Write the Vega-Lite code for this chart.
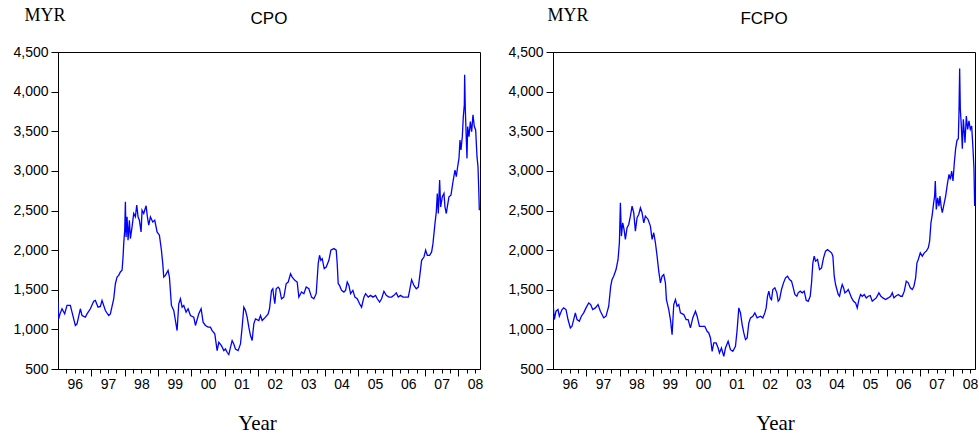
{
  "$schema": "https://vega.github.io/schema/vega-lite/v6.json",
  "padding": {"left": 12, "top": 5, "right": 0, "bottom": 2},
  "background": "white",
  "config": {
    "view": {"stroke": "black", "strokeWidth": 1},
    "axis": {"domainColor": "black", "tickColor": "black", "labelColor": "black", "labelFont": "Liberation Sans", "labelFontSize": 14, "grid": false, "titleColor": "black", "titleFontWeight": "normal"},
    "title": {"font": "Liberation Sans", "fontSize": 17, "fontWeight": "normal", "color": "black", "anchor": "middle", "baseline": "alphabetic"}
  },
  "datasets": {
    "cpo": [
      {"t": 1996.00, "v": 1344}, {"t": 1996.02, "v": 1133}, {"t": 1996.06, "v": 1196}, {"t": 1996.12, "v": 1260}, {"t": 1996.20, "v": 1196}, {"t": 1996.27, "v": 1302}, {"t": 1996.37, "v": 1302}, {"t": 1996.42, "v": 1217}, {"t": 1996.52, "v": 1049}, {"t": 1996.57, "v": 1070}, {"t": 1996.67, "v": 1260}, {"t": 1996.72, "v": 1175}, {"t": 1996.82, "v": 1154}, {"t": 1996.87, "v": 1196}, {"t": 1996.97, "v": 1260}, {"t": 1997.07, "v": 1356}, {"t": 1997.12, "v": 1365}, {"t": 1997.20, "v": 1280}, {"t": 1997.27, "v": 1289}, {"t": 1997.32, "v": 1365}, {"t": 1997.42, "v": 1238}, {"t": 1997.52, "v": 1175}, {"t": 1997.57, "v": 1196}, {"t": 1997.67, "v": 1386}, {"t": 1997.72, "v": 1576}, {"t": 1997.77, "v": 1660}, {"t": 1997.82, "v": 1681}, {"t": 1997.87, "v": 1724}, {"t": 1997.92, "v": 1745}, {"t": 1997.95, "v": 1913}, {"t": 1997.97, "v": 2082}, {"t": 1998.00, "v": 2250}, {"t": 1998.02, "v": 2610}, {"t": 1998.04, "v": 2167}, {"t": 1998.07, "v": 2420}, {"t": 1998.10, "v": 2124}, {"t": 1998.14, "v": 2377}, {"t": 1998.17, "v": 2146}, {"t": 1998.22, "v": 2293}, {"t": 1998.27, "v": 2462}, {"t": 1998.32, "v": 2420}, {"t": 1998.36, "v": 2568}, {"t": 1998.40, "v": 2420}, {"t": 1998.44, "v": 2377}, {"t": 1998.49, "v": 2230}, {"t": 1998.52, "v": 2504}, {"t": 1998.57, "v": 2462}, {"t": 1998.64, "v": 2560}, {"t": 1998.68, "v": 2420}, {"t": 1998.72, "v": 2314}, {"t": 1998.77, "v": 2420}, {"t": 1998.84, "v": 2356}, {"t": 1998.90, "v": 2377}, {"t": 1998.97, "v": 2230}, {"t": 1999.04, "v": 2188}, {"t": 1999.10, "v": 2000}, {"t": 1999.14, "v": 1829}, {"t": 1999.17, "v": 1660}, {"t": 1999.22, "v": 1681}, {"t": 1999.30, "v": 1745}, {"t": 1999.34, "v": 1660}, {"t": 1999.40, "v": 1302}, {"t": 1999.47, "v": 1238}, {"t": 1999.52, "v": 1112}, {"t": 1999.57, "v": 985}, {"t": 1999.62, "v": 1323}, {"t": 1999.67, "v": 1386}, {"t": 1999.72, "v": 1280}, {"t": 1999.77, "v": 1302}, {"t": 1999.84, "v": 1217}, {"t": 1999.90, "v": 1260}, {"t": 1999.97, "v": 1175}, {"t": 2000.07, "v": 1154}, {"t": 2000.12, "v": 1049}, {"t": 2000.22, "v": 1196}, {"t": 2000.29, "v": 1260}, {"t": 2000.35, "v": 1091}, {"t": 2000.42, "v": 1049}, {"t": 2000.50, "v": 1028}, {"t": 2000.57, "v": 1028}, {"t": 2000.62, "v": 985}, {"t": 2000.70, "v": 943}, {"t": 2000.77, "v": 732}, {"t": 2000.82, "v": 837}, {"t": 2000.90, "v": 795}, {"t": 2000.97, "v": 732}, {"t": 2001.02, "v": 753}, {"t": 2001.07, "v": 711}, {"t": 2001.12, "v": 682}, {"t": 2001.17, "v": 774}, {"t": 2001.22, "v": 859}, {"t": 2001.27, "v": 816}, {"t": 2001.32, "v": 753}, {"t": 2001.40, "v": 732}, {"t": 2001.47, "v": 816}, {"t": 2001.52, "v": 1028}, {"t": 2001.57, "v": 1280}, {"t": 2001.62, "v": 1238}, {"t": 2001.67, "v": 1154}, {"t": 2001.72, "v": 1028}, {"t": 2001.77, "v": 922}, {"t": 2001.82, "v": 859}, {"t": 2001.87, "v": 1070}, {"t": 2001.92, "v": 1133}, {"t": 2002.02, "v": 1112}, {"t": 2002.07, "v": 1175}, {"t": 2002.12, "v": 1112}, {"t": 2002.22, "v": 1154}, {"t": 2002.30, "v": 1196}, {"t": 2002.34, "v": 1260}, {"t": 2002.40, "v": 1492}, {"t": 2002.44, "v": 1513}, {"t": 2002.47, "v": 1407}, {"t": 2002.50, "v": 1323}, {"t": 2002.54, "v": 1513}, {"t": 2002.60, "v": 1534}, {"t": 2002.64, "v": 1513}, {"t": 2002.70, "v": 1386}, {"t": 2002.77, "v": 1407}, {"t": 2002.84, "v": 1576}, {"t": 2002.90, "v": 1597}, {"t": 2002.97, "v": 1702}, {"t": 2003.02, "v": 1660}, {"t": 2003.10, "v": 1618}, {"t": 2003.17, "v": 1597}, {"t": 2003.22, "v": 1407}, {"t": 2003.30, "v": 1471}, {"t": 2003.37, "v": 1450}, {"t": 2003.44, "v": 1534}, {"t": 2003.52, "v": 1513}, {"t": 2003.60, "v": 1407}, {"t": 2003.67, "v": 1386}, {"t": 2003.74, "v": 1450}, {"t": 2003.80, "v": 1829}, {"t": 2003.84, "v": 1935}, {"t": 2003.88, "v": 1871}, {"t": 2003.92, "v": 1892}, {"t": 2003.98, "v": 1766}, {"t": 2004.04, "v": 1787}, {"t": 2004.12, "v": 1871}, {"t": 2004.18, "v": 2000}, {"t": 2004.27, "v": 2019}, {"t": 2004.34, "v": 2000}, {"t": 2004.37, "v": 1829}, {"t": 2004.40, "v": 1576}, {"t": 2004.44, "v": 1555}, {"t": 2004.50, "v": 1492}, {"t": 2004.57, "v": 1471}, {"t": 2004.62, "v": 1492}, {"t": 2004.67, "v": 1597}, {"t": 2004.72, "v": 1555}, {"t": 2004.77, "v": 1450}, {"t": 2004.84, "v": 1492}, {"t": 2004.90, "v": 1407}, {"t": 2004.97, "v": 1386}, {"t": 2005.04, "v": 1323}, {"t": 2005.10, "v": 1280}, {"t": 2005.17, "v": 1407}, {"t": 2005.22, "v": 1450}, {"t": 2005.30, "v": 1407}, {"t": 2005.37, "v": 1429}, {"t": 2005.44, "v": 1407}, {"t": 2005.52, "v": 1429}, {"t": 2005.57, "v": 1386}, {"t": 2005.64, "v": 1344}, {"t": 2005.70, "v": 1386}, {"t": 2005.77, "v": 1481}, {"t": 2005.84, "v": 1429}, {"t": 2005.92, "v": 1407}, {"t": 2006.00, "v": 1407}, {"t": 2006.07, "v": 1429}, {"t": 2006.14, "v": 1460}, {"t": 2006.20, "v": 1407}, {"t": 2006.27, "v": 1429}, {"t": 2006.34, "v": 1407}, {"t": 2006.42, "v": 1407}, {"t": 2006.50, "v": 1407}, {"t": 2006.54, "v": 1492}, {"t": 2006.60, "v": 1627}, {"t": 2006.67, "v": 1555}, {"t": 2006.74, "v": 1513}, {"t": 2006.80, "v": 1534}, {"t": 2006.84, "v": 1660}, {"t": 2006.90, "v": 1871}, {"t": 2006.97, "v": 1913}, {"t": 2007.02, "v": 2000}, {"t": 2007.07, "v": 1935}, {"t": 2007.14, "v": 1935}, {"t": 2007.20, "v": 1977}, {"t": 2007.24, "v": 2082}, {"t": 2007.30, "v": 2335}, {"t": 2007.34, "v": 2483}, {"t": 2007.37, "v": 2715}, {"t": 2007.40, "v": 2462}, {"t": 2007.44, "v": 2884}, {"t": 2007.47, "v": 2546}, {"t": 2007.52, "v": 2673}, {"t": 2007.57, "v": 2715}, {"t": 2007.60, "v": 2546}, {"t": 2007.64, "v": 2462}, {"t": 2007.67, "v": 2546}, {"t": 2007.72, "v": 2673}, {"t": 2007.78, "v": 2694}, {"t": 2007.84, "v": 2863}, {"t": 2007.90, "v": 3010}, {"t": 2007.94, "v": 2926}, {"t": 2007.98, "v": 3052}, {"t": 2008.02, "v": 3158}, {"t": 2008.05, "v": 3390}, {"t": 2008.08, "v": 3264}, {"t": 2008.12, "v": 3432}, {"t": 2008.15, "v": 3685}, {"t": 2008.18, "v": 3833}, {"t": 2008.19, "v": 4213}, {"t": 2008.21, "v": 3770}, {"t": 2008.24, "v": 3390}, {"t": 2008.26, "v": 3158}, {"t": 2008.28, "v": 3559}, {"t": 2008.32, "v": 3432}, {"t": 2008.36, "v": 3622}, {"t": 2008.40, "v": 3495}, {"t": 2008.44, "v": 3706}, {"t": 2008.48, "v": 3559}, {"t": 2008.52, "v": 3516}, {"t": 2008.56, "v": 3179}, {"t": 2008.59, "v": 3052}, {"t": 2008.61, "v": 2800}, {"t": 2008.63, "v": 2504}
    ],
    "fcpo": [
      {"t": 1996.00, "v": 1334}, {"t": 1996.04, "v": 1124}, {"t": 1996.09, "v": 1229}, {"t": 1996.15, "v": 1250}, {"t": 1996.19, "v": 1166}, {"t": 1996.27, "v": 1250}, {"t": 1996.32, "v": 1271}, {"t": 1996.39, "v": 1250}, {"t": 1996.45, "v": 1124}, {"t": 1996.52, "v": 1018}, {"t": 1996.57, "v": 1039}, {"t": 1996.62, "v": 1124}, {"t": 1996.67, "v": 1208}, {"t": 1996.72, "v": 1124}, {"t": 1996.79, "v": 1102}, {"t": 1996.85, "v": 1166}, {"t": 1996.92, "v": 1208}, {"t": 1996.99, "v": 1271}, {"t": 1997.07, "v": 1334}, {"t": 1997.13, "v": 1313}, {"t": 1997.19, "v": 1250}, {"t": 1997.27, "v": 1271}, {"t": 1997.35, "v": 1313}, {"t": 1997.42, "v": 1229}, {"t": 1997.52, "v": 1145}, {"t": 1997.59, "v": 1166}, {"t": 1997.67, "v": 1292}, {"t": 1997.73, "v": 1545}, {"t": 1997.77, "v": 1629}, {"t": 1997.82, "v": 1671}, {"t": 1997.89, "v": 1755}, {"t": 1997.95, "v": 1882}, {"t": 1997.99, "v": 2093}, {"t": 1998.02, "v": 2598}, {"t": 1998.05, "v": 2177}, {"t": 1998.09, "v": 2345}, {"t": 1998.13, "v": 2261}, {"t": 1998.17, "v": 2135}, {"t": 1998.22, "v": 2282}, {"t": 1998.27, "v": 2324}, {"t": 1998.32, "v": 2429}, {"t": 1998.37, "v": 2556}, {"t": 1998.42, "v": 2472}, {"t": 1998.47, "v": 2240}, {"t": 1998.52, "v": 2408}, {"t": 1998.57, "v": 2450}, {"t": 1998.62, "v": 2535}, {"t": 1998.67, "v": 2472}, {"t": 1998.72, "v": 2345}, {"t": 1998.77, "v": 2429}, {"t": 1998.85, "v": 2387}, {"t": 1998.92, "v": 2303}, {"t": 1998.97, "v": 2135}, {"t": 1999.02, "v": 2219}, {"t": 1999.07, "v": 2093}, {"t": 1999.12, "v": 1924}, {"t": 1999.17, "v": 1734}, {"t": 1999.22, "v": 1587}, {"t": 1999.27, "v": 1671}, {"t": 1999.32, "v": 1692}, {"t": 1999.37, "v": 1587}, {"t": 1999.40, "v": 1376}, {"t": 1999.47, "v": 1250}, {"t": 1999.52, "v": 1124}, {"t": 1999.57, "v": 934}, {"t": 1999.62, "v": 1313}, {"t": 1999.67, "v": 1376}, {"t": 1999.72, "v": 1292}, {"t": 1999.77, "v": 1313}, {"t": 1999.82, "v": 1208}, {"t": 1999.92, "v": 1187}, {"t": 1999.99, "v": 1124}, {"t": 2000.05, "v": 1124}, {"t": 2000.12, "v": 1018}, {"t": 2000.19, "v": 1145}, {"t": 2000.27, "v": 1229}, {"t": 2000.32, "v": 1166}, {"t": 2000.39, "v": 1039}, {"t": 2000.47, "v": 1039}, {"t": 2000.55, "v": 1039}, {"t": 2000.62, "v": 976}, {"t": 2000.67, "v": 955}, {"t": 2000.72, "v": 892}, {"t": 2000.77, "v": 723}, {"t": 2000.82, "v": 829}, {"t": 2000.89, "v": 829}, {"t": 2000.95, "v": 765}, {"t": 2000.99, "v": 702}, {"t": 2001.05, "v": 765}, {"t": 2001.12, "v": 660}, {"t": 2001.17, "v": 765}, {"t": 2001.25, "v": 850}, {"t": 2001.32, "v": 744}, {"t": 2001.39, "v": 723}, {"t": 2001.47, "v": 787}, {"t": 2001.52, "v": 997}, {"t": 2001.57, "v": 1271}, {"t": 2001.62, "v": 1208}, {"t": 2001.67, "v": 1060}, {"t": 2001.72, "v": 955}, {"t": 2001.77, "v": 871}, {"t": 2001.82, "v": 892}, {"t": 2001.87, "v": 1081}, {"t": 2001.92, "v": 1145}, {"t": 2001.99, "v": 1166}, {"t": 2002.05, "v": 1208}, {"t": 2002.12, "v": 1145}, {"t": 2002.22, "v": 1166}, {"t": 2002.29, "v": 1145}, {"t": 2002.35, "v": 1208}, {"t": 2002.39, "v": 1271}, {"t": 2002.43, "v": 1418}, {"t": 2002.47, "v": 1482}, {"t": 2002.51, "v": 1397}, {"t": 2002.55, "v": 1376}, {"t": 2002.59, "v": 1503}, {"t": 2002.65, "v": 1524}, {"t": 2002.71, "v": 1461}, {"t": 2002.75, "v": 1355}, {"t": 2002.79, "v": 1376}, {"t": 2002.85, "v": 1503}, {"t": 2002.91, "v": 1587}, {"t": 2002.97, "v": 1650}, {"t": 2003.03, "v": 1671}, {"t": 2003.09, "v": 1629}, {"t": 2003.15, "v": 1608}, {"t": 2003.19, "v": 1545}, {"t": 2003.25, "v": 1440}, {"t": 2003.31, "v": 1418}, {"t": 2003.35, "v": 1461}, {"t": 2003.41, "v": 1482}, {"t": 2003.47, "v": 1461}, {"t": 2003.53, "v": 1482}, {"t": 2003.59, "v": 1368}, {"t": 2003.65, "v": 1355}, {"t": 2003.71, "v": 1418}, {"t": 2003.75, "v": 1587}, {"t": 2003.79, "v": 1840}, {"t": 2003.83, "v": 1924}, {"t": 2003.87, "v": 1861}, {"t": 2003.93, "v": 1882}, {"t": 2003.99, "v": 1755}, {"t": 2004.05, "v": 1776}, {"t": 2004.11, "v": 1903}, {"t": 2004.17, "v": 1987}, {"t": 2004.23, "v": 2008}, {"t": 2004.29, "v": 1987}, {"t": 2004.35, "v": 1966}, {"t": 2004.39, "v": 1924}, {"t": 2004.43, "v": 1671}, {"t": 2004.47, "v": 1566}, {"t": 2004.51, "v": 1503}, {"t": 2004.55, "v": 1440}, {"t": 2004.59, "v": 1418}, {"t": 2004.63, "v": 1503}, {"t": 2004.67, "v": 1566}, {"t": 2004.71, "v": 1524}, {"t": 2004.75, "v": 1461}, {"t": 2004.81, "v": 1482}, {"t": 2004.85, "v": 1503}, {"t": 2004.89, "v": 1461}, {"t": 2004.95, "v": 1397}, {"t": 2005.01, "v": 1355}, {"t": 2005.07, "v": 1334}, {"t": 2005.12, "v": 1271}, {"t": 2005.17, "v": 1376}, {"t": 2005.22, "v": 1440}, {"t": 2005.27, "v": 1418}, {"t": 2005.33, "v": 1440}, {"t": 2005.39, "v": 1397}, {"t": 2005.45, "v": 1418}, {"t": 2005.51, "v": 1427}, {"t": 2005.57, "v": 1355}, {"t": 2005.63, "v": 1376}, {"t": 2005.69, "v": 1397}, {"t": 2005.77, "v": 1461}, {"t": 2005.83, "v": 1418}, {"t": 2005.89, "v": 1397}, {"t": 2005.97, "v": 1376}, {"t": 2006.05, "v": 1397}, {"t": 2006.12, "v": 1418}, {"t": 2006.17, "v": 1461}, {"t": 2006.22, "v": 1397}, {"t": 2006.27, "v": 1418}, {"t": 2006.35, "v": 1440}, {"t": 2006.42, "v": 1418}, {"t": 2006.47, "v": 1418}, {"t": 2006.53, "v": 1482}, {"t": 2006.59, "v": 1608}, {"t": 2006.65, "v": 1587}, {"t": 2006.71, "v": 1524}, {"t": 2006.77, "v": 1503}, {"t": 2006.82, "v": 1545}, {"t": 2006.87, "v": 1650}, {"t": 2006.91, "v": 1840}, {"t": 2006.95, "v": 1882}, {"t": 2007.01, "v": 1966}, {"t": 2007.07, "v": 1924}, {"t": 2007.13, "v": 1966}, {"t": 2007.19, "v": 1987}, {"t": 2007.25, "v": 2029}, {"t": 2007.29, "v": 2114}, {"t": 2007.33, "v": 2345}, {"t": 2007.37, "v": 2450}, {"t": 2007.41, "v": 2598}, {"t": 2007.44, "v": 2682}, {"t": 2007.46, "v": 2872}, {"t": 2007.49, "v": 2514}, {"t": 2007.53, "v": 2661}, {"t": 2007.57, "v": 2556}, {"t": 2007.60, "v": 2682}, {"t": 2007.64, "v": 2535}, {"t": 2007.67, "v": 2472}, {"t": 2007.72, "v": 2577}, {"t": 2007.77, "v": 2682}, {"t": 2007.82, "v": 2830}, {"t": 2007.87, "v": 2956}, {"t": 2007.91, "v": 2893}, {"t": 2007.95, "v": 2998}, {"t": 2007.99, "v": 2872}, {"t": 2008.03, "v": 3103}, {"t": 2008.07, "v": 3280}, {"t": 2008.11, "v": 3385}, {"t": 2008.15, "v": 3406}, {"t": 2008.17, "v": 3735}, {"t": 2008.19, "v": 4292}, {"t": 2008.21, "v": 3777}, {"t": 2008.24, "v": 3566}, {"t": 2008.27, "v": 3280}, {"t": 2008.30, "v": 3650}, {"t": 2008.33, "v": 3482}, {"t": 2008.35, "v": 3356}, {"t": 2008.39, "v": 3693}, {"t": 2008.43, "v": 3524}, {"t": 2008.47, "v": 3630}, {"t": 2008.51, "v": 3524}, {"t": 2008.55, "v": 3566}, {"t": 2008.59, "v": 3280}, {"t": 2008.62, "v": 3019}, {"t": 2008.64, "v": 2556}
    ]
  },
  "spacing": 73,
  "bounds": "flush",
  "hconcat": [
    {
      "width": 422,
      "height": 317,
      "title": {"text": "CPO", "offset": -22},
      "data": {"name": "cpo"},
      "mark": {"type": "line", "color": "#0000ff", "strokeWidth": 1.3, "clip": true},
      "encoding": {
        "x": {"field": "t", "type": "quantitative", "scale": {"domain": [1996, 2008.65], "nice": false, "zero": false},
          "axis": {"title": "Year", "titleFont": "Liberation Serif", "titleFontSize": 21, "titleX": 199, "titleY": 60, "titleAlign": "center", "titleBaseline": "alphabetic",
            "values": [1996.25, 1996.5, 1996.75, 1997, 1997.25, 1997.5, 1997.75, 1998, 1998.25, 1998.5, 1998.75, 1999, 1999.25, 1999.5, 1999.75, 2000, 2000.25, 2000.5, 2000.75, 2001, 2001.25, 2001.5, 2001.75, 2002, 2002.25, 2002.5, 2002.75, 2003, 2003.25, 2003.5, 2003.75, 2004, 2004.25, 2004.5, 2004.75, 2005, 2005.25, 2005.5, 2005.75, 2006, 2006.25, 2006.5, 2006.75, 2007, 2007.25, 2007.5, 2007.75, 2008, 2008.25, 2008.5],
            "labelExpr": "(datum.value*4)%4==2 ? substring(toString(floor(datum.value)),2,4) : ''",
            "labelOverlap": false, "labelFlush": false, "labelPadding": 4,
            "tickSize": {"condition": {"test": "(datum.value*4)%4==0", "value": 7}, "value": 4}}},
        "y": {"field": "v", "type": "quantitative", "scale": {"domain": [500, 4500], "nice": false, "zero": false},
          "axis": {"title": "MYR", "titleAngle": 0, "titleAlign": "left", "titleBaseline": "alphabetic", "titleX": -34, "titleY": -32, "titleFont": "Liberation Serif", "titleFontSize": 18,
            "values": [500, 1000, 1500, 2000, 2500, 3000, 3500, 4000, 4500], "format": ",.0f", "tickSize": 7, "labelPadding": 3}}
      }
    },
    {
      "width": 422,
      "height": 317,
      "title": {"text": "FCPO", "offset": -22},
      "data": {"name": "fcpo"},
      "mark": {"type": "line", "color": "#0000ff", "strokeWidth": 1.3, "clip": true},
      "encoding": {
        "x": {"field": "t", "type": "quantitative", "scale": {"domain": [1996, 2008.65], "nice": false, "zero": false},
          "axis": {"title": "Year", "titleFont": "Liberation Serif", "titleFontSize": 21, "titleX": 222, "titleY": 60, "titleAlign": "center", "titleBaseline": "alphabetic",
            "values": [1996.25, 1996.5, 1996.75, 1997, 1997.25, 1997.5, 1997.75, 1998, 1998.25, 1998.5, 1998.75, 1999, 1999.25, 1999.5, 1999.75, 2000, 2000.25, 2000.5, 2000.75, 2001, 2001.25, 2001.5, 2001.75, 2002, 2002.25, 2002.5, 2002.75, 2003, 2003.25, 2003.5, 2003.75, 2004, 2004.25, 2004.5, 2004.75, 2005, 2005.25, 2005.5, 2005.75, 2006, 2006.25, 2006.5, 2006.75, 2007, 2007.25, 2007.5, 2007.75, 2008, 2008.25, 2008.5],
            "labelExpr": "(datum.value*4)%4==2 ? substring(toString(floor(datum.value)),2,4) : ''",
            "labelOverlap": false, "labelFlush": false, "labelPadding": 4,
            "tickSize": {"condition": {"test": "(datum.value*4)%4==0", "value": 7}, "value": 4}}},
        "y": {"field": "v", "type": "quantitative", "scale": {"domain": [500, 4500], "nice": false, "zero": false},
          "axis": {"title": "MYR", "titleAngle": 0, "titleAlign": "left", "titleBaseline": "alphabetic", "titleX": -6, "titleY": -32, "titleFont": "Liberation Serif", "titleFontSize": 18,
            "values": [500, 1000, 1500, 2000, 2500, 3000, 3500, 4000, 4500], "format": ",.0f", "tickSize": 7, "labelPadding": 3}}
      }
    }
  ]
}
